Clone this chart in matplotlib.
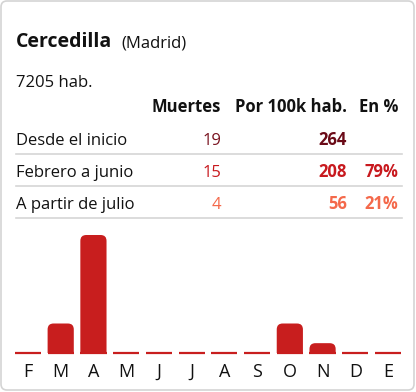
import matplotlib
matplotlib.use("Agg")
import matplotlib.pyplot as plt
from matplotlib.patches import FancyBboxPatch

plt.rcParams['font.family'] = ['Open Sans', 'DejaVu Sans']

# data
town = "Cercedilla"
province = "(Madrid)"
population = "7205 hab."
headers = ["Muertes", "Por 100k hab.", "En %"]
row_labels = ["Desde el inicio", "Febrero a junio", "A partir de julio"]
deaths = ["19", "15", "4"]
per100k = ["264", "208", "56"]
percent = ["", "79%", "21%"]
months = ["F", "M", "A", "M", "J", "J", "A", "S", "O", "N", "D", "E"]
monthly = [0, 3, 12, 0, 0, 0, 0, 0, 3, 1, 0, 0]

row_colors = ["#7a1420", "#c8191e", "#f4694b"]
big_colors = ["#6a0a17", "#c8191e", "#f4694b"]
bar_color = "#c81e1e"

W, H = 416, 392
fig = plt.figure(figsize=(W / 100, H / 100), dpi=100)

# overlay in pixel coordinates
bg = fig.add_axes([0, 0, 1, 1])
bg.set_xlim(0, W)
bg.set_ylim(H, 0)
bg.axis('off')

card = FancyBboxPatch((1, 1), W - 3, H - 3, boxstyle="round,pad=0,rounding_size=6",
                      fc="white", ec="#d4d4d4", lw=1.2)
bg.add_patch(card)

fs = 12
bg.text(16, 47, town, fontsize=14, fontweight='bold', color='#111111', va='baseline')
bg.text(121, 47, province, fontsize=fs, color='#111111', va='baseline')
bg.text(16, 87, population, fontsize=fs, color='#111111', va='baseline')

col_x = [221, 347, 398]
for x, h in zip(col_x, headers):
    bg.text(x, 112, h, fontsize=fs, fontweight='bold', color='#111111',
            ha='right', va='baseline')

base = [145, 177, 209]
lines_y = [154, 186, 218]
for i in range(3):
    y = base[i]
    bg.text(16, y, row_labels[i], fontsize=fs, color='#111111', va='baseline')
    bg.text(col_x[0], y, deaths[i], fontsize=fs, color=row_colors[i],
            ha='right', va='baseline')
    bg.text(col_x[1], y, per100k[i], fontsize=fs, fontweight='bold',
            color=big_colors[i], ha='right', va='baseline')
    bg.text(col_x[2], y, percent[i], fontsize=fs, fontweight='bold',
            color=big_colors[i], ha='right', va='baseline')
    bg.plot([16, 402], [lines_y[i], lines_y[i]], color='#d6d6d6', lw=1.2)

# bar chart
left, right = 11.6, 404.4
bottom, top = 353, 235
ax = fig.add_axes([left / W, 1 - bottom / H, (right - left) / W, (bottom - top) / H])
ax.set_xlim(-0.5, len(months) - 0.5)
ax.set_ylim(0, max(monthly))
ax.axis('off')

bw = 0.8
rx = 0.18
ry = 0.6
for i, v in enumerate(monthly):
    ax.plot([i - bw / 2, i + bw / 2], [0, 0], color=bar_color, lw=1.6,
            solid_capstyle='butt', clip_on=False)
    if v > 0:
        p = FancyBboxPatch((i - bw / 2, -2), bw, v + 2,
                           boxstyle="round,pad=0,rounding_size=%g" % rx,
                           mutation_aspect=ry / rx, fc=bar_color, ec='none')
        ax.add_patch(p)

for i, m in enumerate(months):
    ax.text(i, -1.95, m, fontsize=13, color='#111111', ha='center', va='center',
            clip_on=False)

fig.savefig("out.png", dpi=100)
